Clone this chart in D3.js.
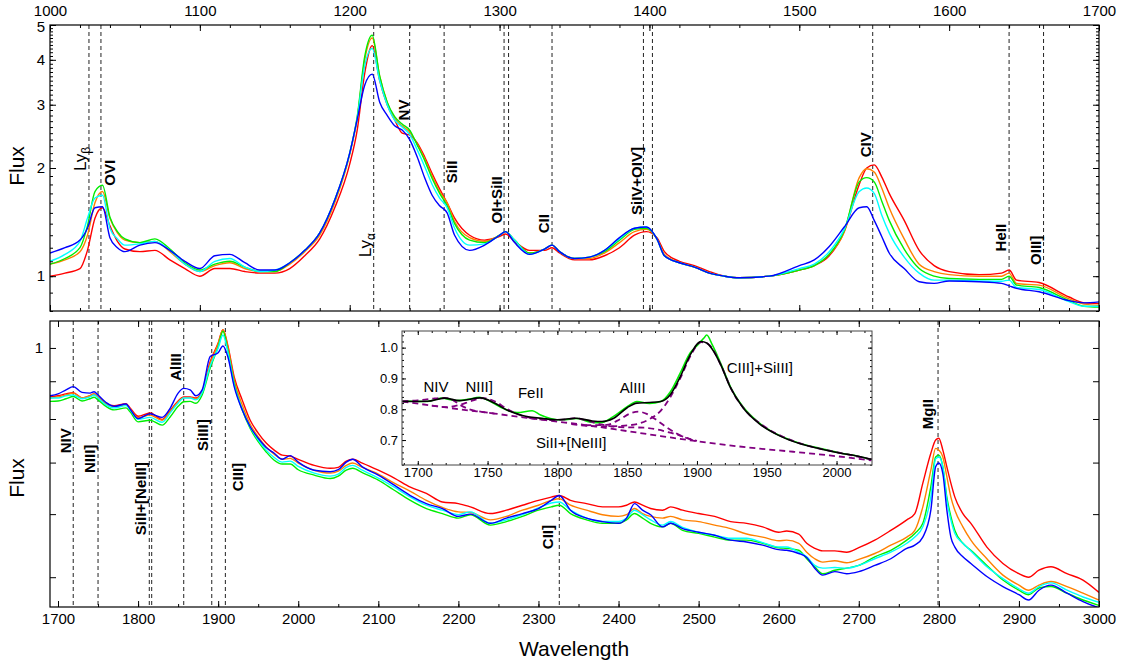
<!DOCTYPE html>
<html>
<head>
<meta charset="utf-8">
<script src="https://cdn.jsdelivr.net/npm/d3@7"></script>
<style>
  body { margin: 0; background: #fff; }
</style>
</head>
<body>
<svg id="chart" width="1123" height="665"></svg>
<script>
const FONT = '"Liberation Sans", Arial, sans-serif';

// ---------- top panel data (1000-1700 A) ----------
const topWave = [1000,1010,1020,1025,1030,1035,1040,1045,1050,
  1060,1070,1080,1090,1100, 1110,1120,1130,1140,1150, 1160,1170,1180,1190,1200,
  1205,1210,1215,1220,1225, 1230,1235,1240,1245,1250, 1255,1260,1265,1270,1280,
  1290,1300,1304,1310,1320, 1330,1335,1340,1350,1360, 1370,1380,1390,1398,1405,
  1410,1420,1430,1440,1450, 1460,1480,1500,1510,1520, 1530,1540,1545,1550,1555,
  1560,1570,1580,1590,1600, 1620,1635,1640,1645,1660, 1680,1690,1700];
const topRed = [1.00,1.02,1.05,1.18,1.45,1.55,1.38,1.25,1.19,
  1.17,1.18,1.11,1.05,1.00, 1.05,1.05,1.03,1.02,1.02, 1.05,1.14,1.27,1.55,2.05,
  2.55,3.67,4.38,3.50,3.00, 2.72,2.50,2.47,2.35,2.15, 1.93,1.75,1.60,1.45,1.30,
  1.26,1.29,1.31,1.25,1.18, 1.18,1.20,1.16,1.11,1.11, 1.14,1.20,1.30,1.33,1.28,
  1.17,1.10,1.07,1.03,1.00, 0.99,1.00,1.04,1.07,1.14, 1.33,1.80,2.00,2.04,1.89,
  1.70,1.43,1.18,1.07,1.03, 1.01,1.02,1.04,0.975,0.96, 0.875,0.843,0.84];
const topOrange = [1.08,1.11,1.17,1.30,1.60,1.72,1.45,1.32,1.26,
  1.24,1.25,1.17,1.08,1.03, 1.07,1.09,1.05,1.03,1.03, 1.08,1.17,1.30,1.60,2.18,
  2.75,4.00,4.60,3.60,3.05, 2.75,2.62,2.52,2.33,2.12, 1.90,1.72,1.60,1.42,1.28,
  1.25,1.30,1.33,1.26,1.16, 1.19,1.22,1.17,1.12,1.12, 1.16,1.24,1.33,1.35,1.27,
  1.15,1.09,1.06,1.02,1.00, 0.99,1.00,1.04,1.07,1.15, 1.33,1.88,1.99,1.95,1.76,
  1.55,1.27,1.08,1.03,1.01, 1.00,1.00,1.02,0.954,0.944, 0.865,0.836,0.83];
const topGreen = [1.08,1.12,1.20,1.38,1.72,1.79,1.46,1.33,1.27,
  1.24,1.27,1.19,1.09,1.04, 1.08,1.10,1.06,1.03,1.03, 1.09,1.18,1.32,1.63,2.20,
  2.78,4.08,4.68,3.60,3.05, 2.78,2.65,2.55,2.32,2.10, 1.87,1.70,1.57,1.40,1.26,
  1.24,1.30,1.33,1.26,1.16, 1.19,1.22,1.17,1.12,1.13, 1.17,1.26,1.35,1.36,1.27,
  1.14,1.09,1.06,1.02,1.00, 0.99,1.00,1.04,1.07,1.15, 1.34,1.83,1.88,1.83,1.62,
  1.43,1.19,1.05,1.00,0.985, 0.98,0.98,1.00,0.944,0.93, 0.855,0.825,0.82];
const topCyan = [1.10,1.15,1.25,1.45,1.65,1.68,1.36,1.27,1.22,
  1.23,1.25,1.18,1.08,1.03, 1.10,1.12,1.06,1.03,1.04, 1.09,1.18,1.32,1.63,2.20,
  2.75,3.85,4.30,3.50,3.00, 2.72,2.60,2.48,2.25,2.02, 1.80,1.65,1.55,1.36,1.22,
  1.23,1.30,1.33,1.26,1.15, 1.19,1.22,1.17,1.12,1.13, 1.18,1.27,1.36,1.37,1.27,
  1.14,1.09,1.06,1.02,1.00, 0.99,1.00,1.05,1.08,1.17, 1.35,1.72,1.76,1.70,1.48,
  1.32,1.13,1.02,0.975,0.975, 0.97,0.968,0.975,0.93,0.918, 0.85,0.825,0.825];
const topBlue = [1.16,1.20,1.26,1.36,1.55,1.56,1.28,1.20,1.17,
  1.22,1.24,1.18,1.10,1.05, 1.14,1.15,1.09,1.04,1.04, 1.09,1.18,1.32,1.63,2.20,
  2.73,3.40,3.65,3.05,2.80, 2.62,2.55,2.40,2.15,1.88, 1.68,1.57,1.50,1.30,1.18,
  1.22,1.30,1.33,1.24,1.15, 1.19,1.22,1.17,1.12,1.13, 1.18,1.28,1.36,1.37,1.27,
  1.14,1.09,1.06,1.02,1.00, 0.99,1.00,1.07,1.11,1.21, 1.37,1.55,1.56,1.43,1.29,
  1.16,1.05,0.965,0.955,0.97, 0.965,0.955,0.94,0.925,0.905, 0.855,0.843,0.848];

// ---------- bottom panel data (1690-3000 A) ----------
const botWave = [1690,1700,1710,1719,1730,1740,1745,1750,1760,1770,
  1785,1790,1800,1815,1830,1840,1850,1857,1865,1872,
  1880,1890,1900,1906,1912,1920,1930,1940,1950,1960,
  1970,1980,1990,2000,2020,2040,2050,2060,2068,2080,
  2100,2120,2140,2160,2180,2200,2215,2240,2260,2280,
  2300,2316,2326,2340,2360,2380,2400,2410,2420,2430,
  2440,2455,2465,2480,2500,2520,2540,2560,2580,2600,
  2610,2625,2635,2645,2655,2670,2685,2700,2720,2740,
  2760,2770,2780,2790,2796,2800,2805,2810,2815,2820,
  2830,2840,2860,2880,2900,2912,2925,2940,2960,2980, 3000];
const botRed = [0.857,0.860,0.865,0.868,0.854,0.860,0.865,0.857,0.839,0.834,
  0.839,0.828,0.807,0.815,0.799,0.821,0.846,0.857,0.857,0.854,
  0.873,0.957,1.016,1.060,1.009,0.912,0.849,0.797,0.766,0.743,
  0.727,0.716,0.714,0.707,0.694,0.688,0.690,0.703,0.707,0.699,
  0.684,0.668,0.650,0.638,0.622,0.619,0.613,0.601,0.607,0.616,
  0.625,0.631,0.634,0.625,0.619,0.613,0.613,0.616,0.622,0.616,
  0.610,0.607,0.613,0.607,0.601,0.596,0.587,0.584,0.578,0.569,
  0.571,0.566,0.551,0.543,0.539,0.539,0.537,0.544,0.556,0.572,
  0.590,0.601,0.658,0.720,0.750,0.754,0.727,0.691,0.658,0.631,
  0.601,0.584,0.545,0.520,0.505,0.500,0.510,0.515,0.505,0.496, 0.479];
const botOrange = [0.854,0.857,0.862,0.867,0.854,0.860,0.865,0.857,0.839,0.831,
  0.836,0.825,0.803,0.810,0.797,0.818,0.844,0.855,0.855,0.852,
  0.870,0.951,1.013,1.060,1.003,0.904,0.836,0.787,0.757,0.734,
  0.718,0.707,0.709,0.699,0.684,0.678,0.682,0.694,0.699,0.690,
  0.676,0.658,0.642,0.625,0.612,0.604,0.603,0.590,0.596,0.607,
  0.616,0.625,0.628,0.616,0.607,0.599,0.596,0.599,0.610,0.601,
  0.596,0.593,0.596,0.590,0.587,0.581,0.575,0.566,0.561,0.555,
  0.556,0.551,0.537,0.527,0.522,0.524,0.521,0.526,0.535,0.548,
  0.561,0.572,0.613,0.684,0.731,0.727,0.712,0.671,0.631,0.607,
  0.578,0.556,0.527,0.503,0.489,0.482,0.489,0.494,0.487,0.478, 0.469];
const botGreen = [0.845,0.846,0.852,0.858,0.846,0.852,0.856,0.849,0.832,0.823,
  0.828,0.818,0.793,0.797,0.785,0.805,0.832,0.844,0.845,0.840,
  0.862,0.938,1.004,1.055,0.994,0.895,0.823,0.777,0.746,0.723,
  0.705,0.697,0.697,0.685,0.674,0.667,0.672,0.684,0.688,0.679,
  0.664,0.644,0.625,0.610,0.601,0.593,0.599,0.581,0.587,0.596,
  0.607,0.613,0.616,0.601,0.590,0.584,0.584,0.590,0.601,0.593,
  0.584,0.578,0.584,0.572,0.567,0.561,0.556,0.556,0.551,0.544,
  0.543,0.540,0.527,0.515,0.505,0.510,0.513,0.517,0.530,0.540,
  0.556,0.567,0.584,0.651,0.712,0.716,0.691,0.631,0.596,0.572,
  0.551,0.540,0.517,0.496,0.482,0.476,0.485,0.487,0.478,0.469, 0.462];
const botCyan = [0.854,0.854,0.860,0.862,0.852,0.857,0.862,0.854,0.836,0.828,
  0.834,0.823,0.799,0.804,0.792,0.815,0.841,0.854,0.854,0.849,
  0.868,0.944,1.000,1.042,0.988,0.890,0.825,0.780,0.750,0.727,
  0.711,0.701,0.703,0.692,0.678,0.672,0.676,0.690,0.694,0.684,
  0.668,0.650,0.631,0.616,0.607,0.599,0.604,0.584,0.590,0.599,
  0.611,0.620,0.622,0.607,0.593,0.587,0.587,0.593,0.607,0.599,
  0.590,0.581,0.587,0.577,0.569,0.564,0.559,0.559,0.552,0.545,
  0.545,0.537,0.530,0.517,0.513,0.514,0.513,0.517,0.527,0.537,
  0.551,0.561,0.578,0.631,0.708,0.712,0.691,0.625,0.590,0.567,
  0.551,0.539,0.515,0.498,0.484,0.478,0.487,0.492,0.482,0.473, 0.466];
const botBlue = [0.860,0.865,0.876,0.885,0.869,0.867,0.871,0.862,0.842,0.832,
  0.838,0.825,0.801,0.813,0.804,0.827,0.867,0.880,0.876,0.860,
  0.876,0.973,0.985,1.006,0.973,0.885,0.823,0.781,0.754,0.733,
  0.720,0.707,0.715,0.701,0.684,0.681,0.685,0.701,0.707,0.691,
  0.674,0.654,0.634,0.619,0.610,0.596,0.600,0.584,0.593,0.601,
  0.610,0.625,0.634,0.607,0.593,0.587,0.584,0.593,0.619,0.607,
  0.599,0.578,0.584,0.575,0.569,0.564,0.556,0.553,0.548,0.541,
  0.540,0.535,0.529,0.513,0.503,0.508,0.505,0.508,0.517,0.527,
  0.543,0.548,0.561,0.607,0.691,0.699,0.677,0.607,0.561,0.545,
  0.530,0.520,0.501,0.487,0.476,0.469,0.482,0.489,0.478,0.467, 0.459];

const seriesColors = ["#ff0000", "#ff8000", "#00ee00", "#00ffff", "#0000ff"];

// ---------- line identifications ----------
const topLines = [1026, 1034, 1216, 1240, 1263, 1303, 1306, 1335, 1396, 1402, 1549, 1640, 1663];
const topLabels = [
  {t: "Ly", sub: "β", x: 1020, y: 2.12, bold: false},
  {t: "OVI", x: 1040, y: 1.94},
  {t: "Ly", sub: "α", x: 1210.5, y: 1.22, bold: false},
  {t: "NV", x: 1236, y: 2.90},
  {t: "SiII", x: 1268, y: 1.95},
  {t: "OI+SiII", x: 1298, y: 1.63},
  {t: "CII", x: 1329.5, y: 1.40},
  {t: "SiIV+OIV]", x: 1391.5, y: 1.84},
  {t: "CIV", x: 1544.5, y: 2.32},
  {t: "HeII", x: 1634.5, y: 1.28},
  {t: "OIII]", x: 1658, y: 1.18}
];
const botLines = [1719, 1750, 1814, 1817, 1857, 1892, 1909, 2326, 2799];
const botLabels = [
  {t: "NIV", x: 1710, y: 0.748},
  {t: "NIII]", x: 1740, y: 0.708},
  {t: "SiII+[NeIII]", x: 1803.5, y: 0.628},
  {t: "AlIII", x: 1847, y: 0.941},
  {t: "SiIII]", x: 1881, y: 0.761},
  {t: "CIII]", x: 1924.5, y: 0.670},
  {t: "CII]", x: 2312, y: 0.561},
  {t: "MgII", x: 2786.5, y: 0.812}
];

// ---------- inset data ----------
const insetWave = [1689,1697,1707,1717,1728,1736,1744,1752,1761,1771,1782,1788,1795,1804,1814,
  1824,1831,1840,1850,1857,1866,1874,1881,1888,1895,1900,1905,1907,1911,1917,1924,1933,1945,
  1960,1974,1988,2002,2017,2024];
const insetData = [0.827,0.826,0.825,0.836,0.828,0.832,0.839,0.825,0.803,0.789,0.795,0.781,0.770,
  0.765,0.770,0.758,0.756,0.776,0.808,0.825,0.819,0.825,0.857,0.917,0.982,1.006,1.031,1.041,1.009,
  0.949,0.873,0.808,0.754,0.713,0.689,0.673,0.659,0.646,0.637];
const fitWave = [1689,1707,1719,1730,1745,1755,1765,1775,1790,1800,1813,1825,1832,1840,1850,1857,
  1866,1874,1881,1888,1895,1903,1907,1911,1917,1924,1933,1945,1960,1974,1988,2002,2017,2025];
const fitFlux = [0.825,0.826,0.836,0.828,0.837,0.820,0.795,0.780,0.770,0.766,0.771,0.762,0.760,
  0.770,0.805,0.820,0.822,0.825,0.848,0.905,0.975,1.020,1.015,0.995,0.945,0.870,0.805,0.752,
  0.712,0.688,0.672,0.658,0.646,0.637];
const contPts = [[1689,0.825],[1710,0.812],[1730,0.800],[1755,0.786],[1778,0.772],[1800,0.760],
  [1826,0.745],[1850,0.729],[1874,0.713],[1897,0.698],[1921,0.684],[1945,0.672],[1969,0.662],
  [1995,0.650],[2025,0.634]];
const nivPts = [[1689,0.826],[1700,0.829],[1710,0.834],[1719,0.837],[1725,0.830],[1730,0.815],
  [1737,0.800],[1745,0.792],[1755,0.786]];
const niiiPts = [[1710,0.812],[1720,0.807],[1730,0.814],[1738,0.826],[1747,0.836],[1755,0.826],
  [1763,0.804],[1772,0.783],[1782,0.771]];
const siiiPts = [[1780,0.771],[1795,0.765],[1805,0.766],[1813,0.771],[1822,0.762],[1832,0.750],
  [1845,0.742],[1862,0.740],[1880,0.725],[1897,0.700]];
const aliiiPts = [[1820,0.748],[1835,0.749],[1845,0.768],[1852,0.786],[1858,0.792],[1864,0.785],
  [1870,0.768],[1878,0.742],[1888,0.715],[1900,0.697]];
const ciiiPts = [[1810,0.752],[1830,0.744],[1845,0.746],[1857,0.752],[1866,0.768],[1874,0.795],
  [1881,0.840],[1888,0.900],[1895,0.970],[1903,1.018],[1908,1.012],[1912,0.990],[1918,0.935],
  [1925,0.862],[1935,0.795],[1947,0.748],[1962,0.710],[1976,0.686],[1990,0.670],[2005,0.656],
  [2025,0.637]];
const insetLabels = [
  {t: "NIV", x: 1713, y: 0.874},
  {t: "NIII]", x: 1744, y: 0.874},
  {t: "FeII", x: 1781, y: 0.855},
  {t: "AlIII", x: 1854, y: 0.870},
  {t: "CIII]+SiIII]", x: 1945, y: 0.935},
  {t: "SiII+[NeIII]", x: 1810, y: 0.690}
];

// ---------- layout ----------
const svg = d3.select("#chart");
const P1 = {l: 50, r: 1099, t: 25, b: 311};
const P2 = {l: 50, r: 1099, t: 321, b: 607};
const PI = {l: 402, r: 872, t: 331, b: 465};

const xTop = d3.scaleLinear().domain([1000, 1700]).range([P1.l, P1.r]);
const yTop = d3.scaleLog().domain([0.8, 5]).range([P1.b, P1.t]);
const xBot = d3.scaleLinear().domain([1690, 3000]).range([P2.l, P2.r]);
// lower panel: log axis of (flux - 0.1)
const yBotLog = d3.scaleLog().domain([0.36, 0.99]).range([P2.b, P2.t]);
const yBot = v => yBotLog(v - 0.1);
const xIn = d3.scaleLinear().domain([1688.7, 2025.4]).range([PI.l, PI.r]);
const yIn = d3.scaleLinear().domain([0.619, 1.054]).range([PI.b, PI.t]);

const defs = svg.append("defs");
[["clipTop", P1], ["clipBot", P2]].forEach(([id, p]) => {
  defs.append("clipPath").attr("id", id).append("rect")
    .attr("x", p.l).attr("y", p.t).attr("width", p.r - p.l).attr("height", p.b - p.t);
});

function drawAxis(axis, tx, ty, fs) {
  const g = svg.append("g").attr("transform", `translate(${tx},${ty})`).call(axis);
  g.select(".domain").remove();
  g.selectAll("line").attr("stroke", "#000").attr("stroke-width", 1);
  g.selectAll("text").attr("font-family", FONT).attr("font-size", fs).attr("fill", "#000");
  return g;
}
const fr = a => d3.range(a[0], a[1] + 1e-9, a[2]);

function vLines(g, vals, x, y0, y1) {
  g.selectAll(null).data(vals).enter().append("line")
    .attr("x1", d => x(d)).attr("x2", d => x(d))
    .attr("y1", y0).attr("y2", y1)
    .attr("stroke", "#222").attr("stroke-width", 1).attr("stroke-dasharray", "4,3");
}

function rotLabels(g, labels, x, y) {
  labels.forEach(d => {
    const plain = d.bold === false;
    const t = g.append("text")
      .attr("transform", `translate(${x(d.x)},${y(d.y)}) rotate(-90)`)
      .attr("text-anchor", "middle").attr("dy", "0.35em")
      .attr("font-family", FONT).attr("font-size", plain ? 17 : 15)
      .attr("font-weight", plain ? "normal" : "bold")
      .text(d.t);
    if (d.sub) t.append("tspan").attr("font-size", 12).attr("dy", "0.3em").text(d.sub);
  });
}

// ---------- top panel ----------
const gTop = svg.append("g");
vLines(gTop, topLines, xTop, P1.t, P1.b);
const topSeries = [topRed, topOrange, topGreen, topCyan, topBlue];
const lineTop = d3.line().curve(d3.curveMonotoneX);
gTop.append("g").attr("clip-path", "url(#clipTop)")
  .selectAll("path").data(topSeries).enter().append("path")
  .attr("d", s => lineTop(s.map((v, i) => [xTop(topWave[i]), yTop(v)])))
  .attr("fill", "none").attr("stroke", (d, i) => seriesColors[i]).attr("stroke-width", 1.4);
rotLabels(gTop, topLabels, xTop, yTop);

drawAxis(d3.axisTop(xTop).tickValues(fr([1000, 1700, 20])).tickSize(-3).tickFormat(""), 0, P1.t);
drawAxis(d3.axisTop(xTop).tickValues(fr([1000, 1700, 100])).tickSize(-6).tickPadding(9).tickFormat(d3.format("d")), 0, P1.t, 15);
drawAxis(d3.axisBottom(xTop).tickValues(fr([1000, 1700, 20])).tickSize(-3).tickFormat(""), 0, P1.b);
drawAxis(d3.axisBottom(xTop).tickValues(fr([1000, 1700, 100])).tickSize(-6).tickFormat(""), 0, P1.b);
const topMinor = d3.range(8, 51).map(v => v / 10);
drawAxis(d3.axisLeft(yTop).tickValues(topMinor).tickSize(-3).tickFormat(""), P1.l, 0);
const yTopLab = drawAxis(d3.axisLeft(yTop).tickValues([1, 2, 3, 4, 5]).tickSize(-6).tickPadding(5).tickFormat(d3.format("d")), P1.l, 0, 15);
yTopLab.selectAll("text").filter(d => d === 5).attr("dy", "0.45em");
drawAxis(d3.axisRight(yTop).tickValues(topMinor).tickSize(-3).tickFormat(""), P1.r, 0);
drawAxis(d3.axisRight(yTop).tickValues([1, 2, 3, 4, 5]).tickSize(-6).tickFormat(""), P1.r, 0);
svg.append("rect").attr("x", P1.l).attr("y", P1.t).attr("width", P1.r - P1.l).attr("height", P1.b - P1.t)
  .attr("fill", "none").attr("stroke", "#000").attr("stroke-width", 1.2);

// ---------- bottom panel ----------
const gBot = svg.append("g");
vLines(gBot, botLines, xBot, P2.t, P2.b);
const botSeries = [botRed, botOrange, botGreen, botCyan, botBlue];
gBot.append("g").attr("clip-path", "url(#clipBot)")
  .selectAll("path").data(botSeries).enter().append("path")
  .attr("d", s => lineTop(s.map((v, i) => [xBot(botWave[i]), yBot(v)])))
  .attr("fill", "none").attr("stroke", (d, i) => seriesColors[i]).attr("stroke-width", 1.4);
rotLabels(gBot, botLabels, xBot, yBot);

drawAxis(d3.axisBottom(xBot).tickValues(fr([1700, 3000, 50])).tickSize(-3).tickFormat(""), 0, P2.b);
drawAxis(d3.axisBottom(xBot).tickValues(fr([1700, 3000, 100])).tickSize(-6).tickPadding(6).tickFormat(d3.format("d")), 0, P2.b, 15);
drawAxis(d3.axisTop(xBot).tickValues(fr([1700, 3000, 50])).tickSize(-3).tickFormat(""), 0, P2.t);
drawAxis(d3.axisTop(xBot).tickValues(fr([1700, 3000, 100])).tickSize(-6).tickFormat(""), 0, P2.t);
const botTicks = [0.4, 0.5, 0.6, 0.7, 0.8, 0.9];   // flux - 0.1
drawAxis(d3.axisLeft(yBotLog).tickValues(botTicks).tickSize(-6).tickPadding(7)
  .tickFormat(d => Math.abs(d - 0.9) < 1e-9 ? "1" : ""), P2.l, 0, 15);
drawAxis(d3.axisRight(yBotLog).tickValues(botTicks).tickSize(-6).tickFormat(""), P2.r, 0);
svg.append("rect").attr("x", P2.l).attr("y", P2.t).attr("width", P2.r - P2.l).attr("height", P2.b - P2.t)
  .attr("fill", "none").attr("stroke", "#000").attr("stroke-width", 1.2);

// ---------- inset ----------
svg.append("rect").attr("x", PI.l).attr("y", PI.t).attr("width", PI.r - PI.l).attr("height", PI.b - PI.t)
  .attr("fill", "#fff");
const gIn = svg.append("g");
const lineIn = d3.line().curve(d3.curveMonotoneX);
gIn.append("path")
  .attr("d", lineIn(insetData.map((v, i) => [xIn(insetWave[i]), yIn(v)])))
  .attr("fill", "none").attr("stroke", "#00ee00").attr("stroke-width", 1.6);
gIn.selectAll(".comp").data([contPts, nivPts, niiiPts, siiiPts, aliiiPts, ciiiPts]).enter().append("path")
  .attr("d", pts => lineIn(pts.map(p => [xIn(p[0]), yIn(p[1])])))
  .attr("fill", "none").attr("stroke", "#800080").attr("stroke-width", 1.8)
  .attr("stroke-dasharray", "6,4");
gIn.append("path")
  .attr("d", lineIn(fitFlux.map((v, i) => [xIn(fitWave[i]), yIn(v)])))
  .attr("fill", "none").attr("stroke", "#000").attr("stroke-width", 1.6);
insetLabels.forEach(d => {
  gIn.append("text").attr("x", xIn(d.x)).attr("y", yIn(d.y)).attr("dy", "0.35em")
    .attr("text-anchor", "middle").attr("font-family", FONT).attr("font-size", 15).text(d.t);
});
drawAxis(d3.axisBottom(xIn).tickValues(fr([1690, 2020, 10])).tickSize(-2).tickFormat(""), 0, PI.b);
drawAxis(d3.axisBottom(xIn).tickValues(fr([1700, 2000, 50])).tickSize(-4).tickPadding(3).tickFormat(d3.format("d")), 0, PI.b, 13);
drawAxis(d3.axisTop(xIn).tickValues(fr([1690, 2020, 10])).tickSize(-2).tickFormat(""), 0, PI.t);
drawAxis(d3.axisTop(xIn).tickValues(fr([1700, 2000, 50])).tickSize(-4).tickFormat(""), 0, PI.t);
const inMinor = d3.range(31, 53).map(v => v / 50);
drawAxis(d3.axisLeft(yIn).tickValues(inMinor).tickSize(-2).tickFormat(""), PI.l, 0);
drawAxis(d3.axisLeft(yIn).tickValues([0.7, 0.8, 0.9, 1.0]).tickSize(-4).tickPadding(4).tickFormat(d3.format(".1f")), PI.l, 0, 13);
drawAxis(d3.axisRight(yIn).tickValues(inMinor).tickSize(-2).tickFormat(""), PI.r, 0);
drawAxis(d3.axisRight(yIn).tickValues([0.7, 0.8, 0.9, 1.0]).tickSize(-4).tickFormat(""), PI.r, 0);
svg.append("rect").attr("x", PI.l).attr("y", PI.t).attr("width", PI.r - PI.l).attr("height", PI.b - PI.t)
  .attr("fill", "none").attr("stroke", "#444").attr("stroke-width", 1);

// ---------- axis titles ----------
svg.append("text").attr("transform", "translate(17,166) rotate(-90)").attr("text-anchor", "middle")
  .attr("dy", "0.35em").attr("font-family", FONT).attr("font-size", 21).text("Flux");
svg.append("text").attr("transform", "translate(17,478) rotate(-90)").attr("text-anchor", "middle")
  .attr("dy", "0.35em").attr("font-family", FONT).attr("font-size", 21).text("Flux");
svg.append("text").attr("x", 574).attr("y", 649).attr("text-anchor", "middle")
  .attr("dy", "0.35em").attr("font-family", FONT).attr("font-size", 21).text("Wavelength");
</script>
</body>
</html>
